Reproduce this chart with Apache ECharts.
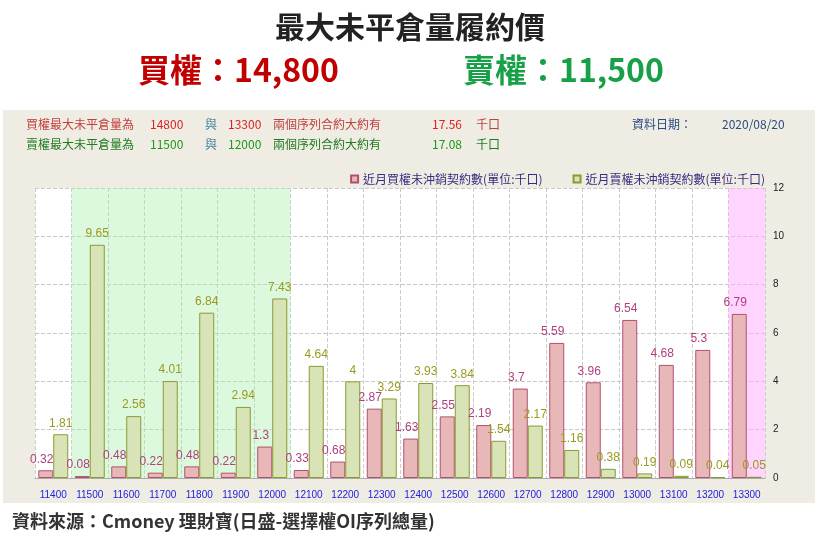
<!DOCTYPE html>
<html><head><meta charset="utf-8">
<script src="https://cdn.jsdelivr.net/npm/echarts@6/dist/echarts.min.js"></script>
<style>body{margin:0;background:#fff}#main{width:820px;height:551px}</style>
</head><body><div id="main"></div>
<script>
var strikes = ["11400","11500","11600","11700","11800","11900","12000","12100","12200","12300","12400","12500","12600","12700","12800","12900","13000","13100","13200","13300"];
var callOI = [0.32,0.08,0.48,0.22,0.48,0.22,1.3,0.33,0.68,2.87,1.63,2.55,2.19,3.7,5.59,3.96,6.54,4.68,5.3,6.79];
var putOI = [1.81,9.65,2.56,4.01,6.84,2.94,7.43,4.64,4,3.29,3.93,3.84,1.54,2.17,1.16,0.38,0.19,0.09,0.04,0.05];

var myChart = echarts.init(document.getElementById("main"));
var f = "'Noto Sans CJK TC', sans-serif";
function txt(x, y, s, color, size, weight) {
  return { type: "text", left: x, top: y, style: { text: s, fill: color, font: (weight || "normal") + " " + size + "px " + f } };
}
var option = {
  animation: false,
  graphic: [
    { type: "rect", shape: { x: 3, y: 110, width: 812, height: 393 }, style: { fill: "#efede3" }, z: -10 },
    { type: "text", left: "center", top: 12, style: { text: "最大未平倉量履約價", fill: "#222", font: "bold 30px " + f } },
    txt(138, 54, "買權：14,800", "#c00000", 32, "bold"),
    txt(463, 54, "賣權：11,500", "#17a047", 32, "bold"),
    txt(26, 118, "買權最大未平倉量為", "#c04040", 12),
    txt(150, 118, "14800", "#e02020", 12),
    txt(205, 118, "與", "#4080a0", 12),
    txt(228, 118, "13300", "#e02020", 12),
    txt(273, 118, "兩個序列合約大約有", "#c04040", 12),
    txt(432, 118, "17.56", "#e02020", 12),
    txt(476, 118, "千口", "#c04040", 12),
    txt(26, 138, "賣權最大未平倉量為", "#207a20", 12),
    txt(150, 138, "11500", "#1a9a1a", 12),
    txt(205, 138, "與", "#4080a0", 12),
    txt(228, 138, "12000", "#1a9a1a", 12),
    txt(273, 138, "兩個序列合約大約有", "#207a20", 12),
    txt(432, 138, "17.08", "#1a9a1a", 12),
    txt(476, 138, "千口", "#207a20", 12),
    txt(632, 118, "資料日期：", "#2a4a80", 12),
    txt(722, 118, "2020/08/20", "#2a4a80", 12),
    txt(12, 512, "資料來源：Cmoney 理財寶(日盛-選擇權OI序列總量)", "#333", 18, "bold")
  ],
  legend: {
    top: 168, right: 50, itemWidth: 7, itemHeight: 7, itemGap: 30, icon: "rect",
    textStyle: { fontSize: 12, color: "#3a2a80", fontFamily: f },
    data: ["近月買權未沖銷契約數(單位:千口)", "近月賣權未沖銷契約數(單位:千口)"]
  },
  grid: { left: 35, right: 55, top: 188, bottom: 73, backgroundColor: "#fff", show: true, borderWidth: 0 },
  xAxis: [
    { type: "category", data: strikes, axisTick: { show: false },
      axisLine: { lineStyle: { color: "#aaa" } },
      axisLabel: { color: "#2020e0", fontSize: 10, margin: 12, interval: 0 },
      splitLine: { show: true, interval: 0, lineStyle: { type: "dashed", color: "#ccc" } } },
    { type: "value", min: 0, max: 20, show: false }
  ],
  yAxis: {
    type: "value", position: "right", min: 0, max: 12, interval: 2,
    axisLine: { show: false }, axisTick: { show: false },
    axisLabel: { color: "#222", fontSize: 10 },
    splitLine: { show: true, lineStyle: { type: "dashed", color: "#c8c8c8" } }
  },
  series: [
    { type: "line", xAxisIndex: 1, data: [], silent: true,
      markArea: { silent: true, data: [
        [{ xAxis: 1, yAxis: 0, itemStyle: { color: "rgba(170,240,170,0.4)" } }, { xAxis: 7, yAxis: 12 }],
        [{ xAxis: 19, yAxis: 0, itemStyle: { color: "rgba(255,170,255,0.5)" } }, { xAxis: 20, yAxis: 12 }]
      ] } },
    { name: "近月買權未沖銷契約數(單位:千口)", type: "bar", data: callOI, barWidth: 15, barGap: "0%",
      itemStyle: { color: "#e8b8b8", borderColor: "#b05070", borderWidth: 1 },
      label: { show: true, position: "top", color: "#b04080", fontSize: 12, offset: [-4, 0] } },
    { name: "近月賣權未沖銷契約數(單位:千口)", type: "bar", data: putOI, barWidth: 15,
      itemStyle: { color: "#d8e4b8", borderColor: "#8a9a30", borderWidth: 1 },
      label: { show: true, position: "top", color: "#9a9a20", fontSize: 12 } }
  ]
};
myChart.setOption(option);
</script></body></html>
